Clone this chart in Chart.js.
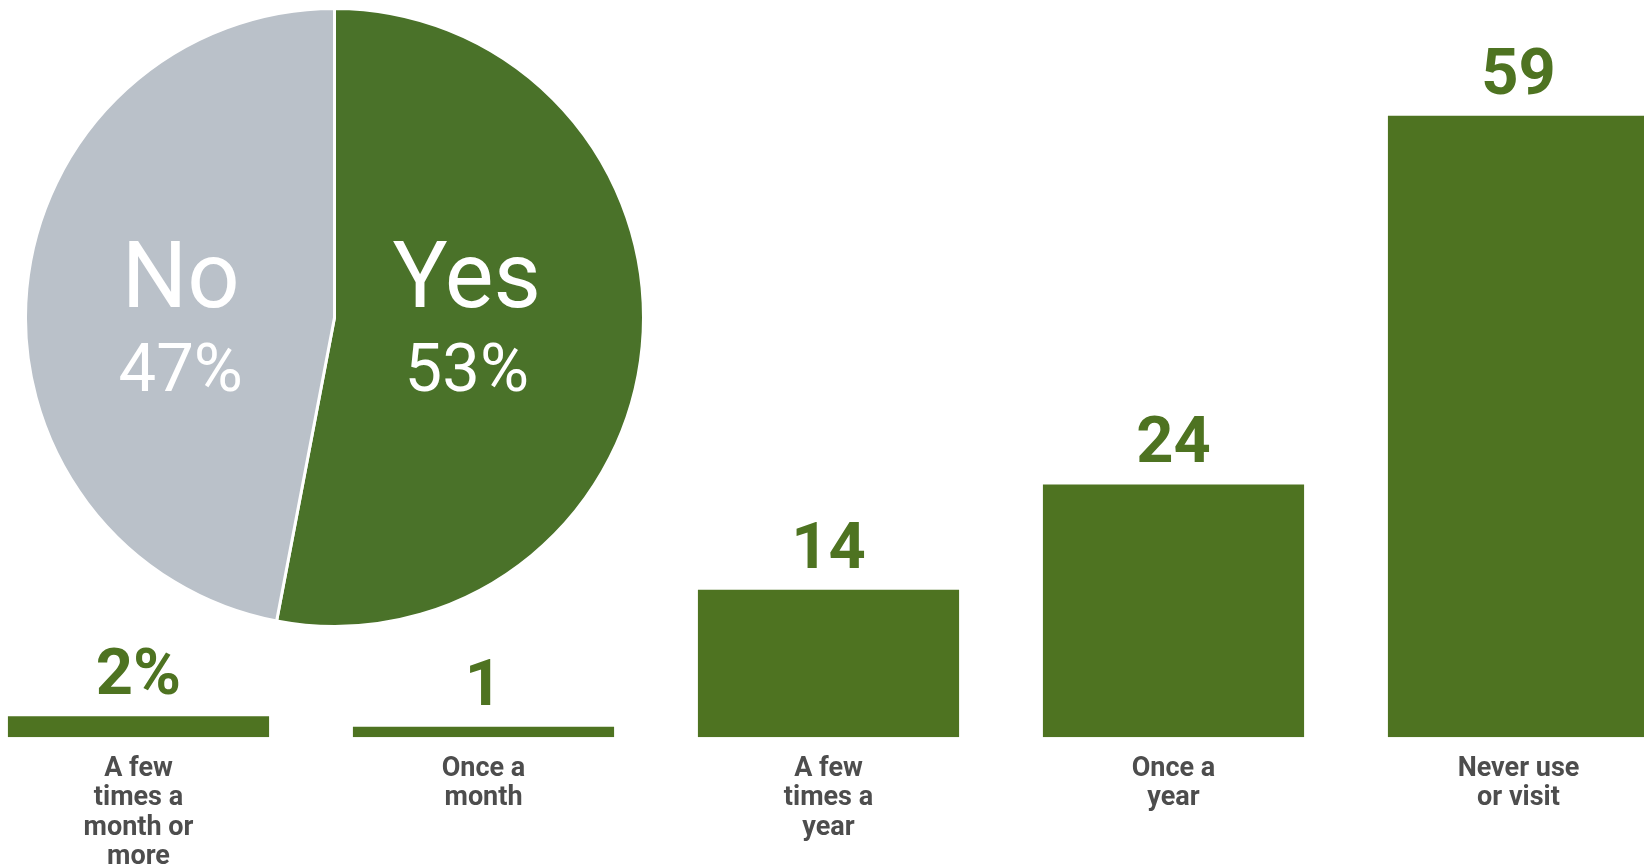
<!DOCTYPE html>
<html>
<head>
<meta charset="utf-8">
<script src="https://cdn.jsdelivr.net/npm/chart.js@4"></script>
<style>
  html, body { margin: 0; padding: 0; background: #fff; width: 1644px; height: 867px; overflow: hidden; position: relative; }
  #barWrap { position: absolute; left: -34px; top: 0; width: 1725px; height: 889px; }
  #pieWrap { position: absolute; left: 24px; top: 7px; width: 621px; height: 621px; }
</style>
</head>
<body>
<div id="barWrap"><canvas id="barChart"></canvas></div>
<div id="pieWrap"><canvas id="pieChart"></canvas></div>
<script>
// bar chart data
const freqLabels = [
    ['A few', 'times a', 'month or', 'more'],
    ['Once a', 'month'],
    ['A few', 'times a', 'year'],
    ['Once a', 'year'],
    ['Never use', 'or visit']
];
const freqValues = [2, 1, 14, 24, 59];
const freqValueText = ['2%', '1', '14', '24', '59'];

// pie data
const pieLabels = ['Yes', 'No'];
const pieValues = [53, 47];

const barGreen = '#4e7321';
const pieGreen = '#4a7229';
const pieGray = '#bac1c9';
const labelGray = '#4d4d4d';

// value on top of each bar
const barValuePlugin = {
    id: 'barValues',
    afterDatasetsDraw(chart) {
        const ctx = chart.ctx;
        const meta = chart.getDatasetMeta(0);
        ctx.save();
        ctx.fillStyle = barGreen;
        ctx.font = 'bold 65px Roboto';
        ctx.textAlign = 'center';
        ctx.textBaseline = 'alphabetic';
        meta.data.forEach((bar, i) => {
            ctx.fillText(freqValueText[i], bar.x, bar.y - 22);
        });
        ctx.restore();
    }
};

new Chart(document.getElementById('barChart'), {
    type: 'bar',
    data: {
        labels: freqLabels,
        datasets: [{
            data: freqValues,
            backgroundColor: barGreen,
            borderWidth: 0,
            barPercentage: 0.757,
            categoryPercentage: 1
        }]
    },
    options: {
        responsive: true,
        maintainAspectRatio: false,
        animation: false,
        layout: { padding: 0 },
        plugins: { legend: { display: false }, tooltip: { enabled: false } },
        scales: {
            y: { display: false, min: 0, max: 70 },
            x: {
                grid: { display: false, drawTicks: false },
                border: { display: false },
                ticks: {
                    color: labelGray,
                    font: { family: 'Roboto', size: 27, weight: 'bold', lineHeight: 1.09 },
                    padding: 17,
                    maxRotation: 0,
                    autoSkip: false
                }
            }
        }
    },
    plugins: [barValuePlugin]
});

// labels inside the pie slices
const pieTextPlugin = {
    id: 'pieText',
    afterDatasetsDraw(chart) {
        const ctx = chart.ctx;
        const meta = chart.getDatasetMeta(0);
        const labelRadius = [0.43, 0.5];
        ctx.save();
        ctx.fillStyle = '#ffffff';
        ctx.textAlign = 'center';
        ctx.textBaseline = 'alphabetic';
        meta.data.forEach((arc, i) => {
            const p = arc.getProps(['x', 'y', 'startAngle', 'endAngle', 'outerRadius'], true);
            const mid = (p.startAngle + p.endAngle) / 2;
            const x = p.x + Math.cos(mid) * p.outerRadius * labelRadius[i];
            ctx.font = '400 92px Roboto';
            ctx.fillText(pieLabels[i], x, p.y - 11);
            ctx.font = '400 67px Roboto';
            ctx.fillText(pieValues[i] + '%', x, p.y + 73);
        });
        ctx.restore();
    }
};

new Chart(document.getElementById('pieChart'), {
    type: 'pie',
    data: {
        labels: pieLabels,
        datasets: [{
            data: pieValues,
            backgroundColor: [pieGreen, pieGray],
            borderColor: '#ffffff',
            borderWidth: 3
        }]
    },
    options: {
        responsive: true,
        maintainAspectRatio: false,
        animation: false,
        layout: { padding: 0 },
        plugins: { legend: { display: false }, tooltip: { enabled: false } }
    },
    plugins: [pieTextPlugin]
});
</script>
</body>
</html>
